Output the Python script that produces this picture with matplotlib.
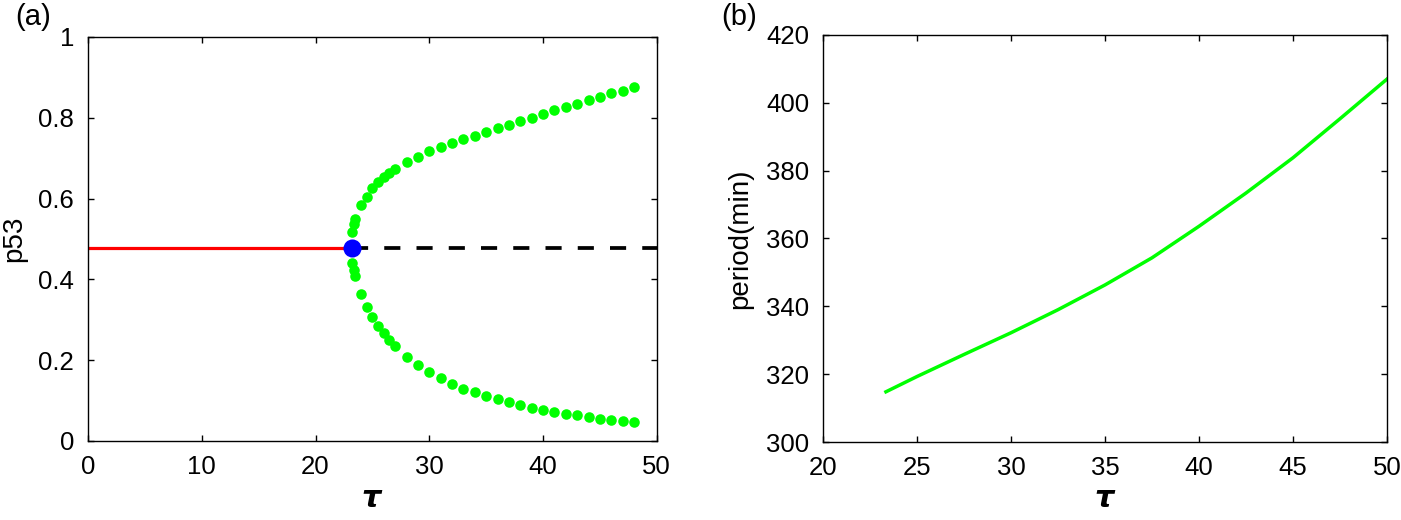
import numpy as np
import matplotlib
matplotlib.use("Agg")
import matplotlib.pyplot as plt

plt.rcParams['font.family'] = ['Liberation Sans', 'DejaVu Sans']

# panel (a): bifurcation diagram
tau_hopf = 23.2
p53_steady = 0.477
tau_max = 50

tau_orbit = [23.22, 23.37, 23.49, 24.0, 24.5, 25.0, 25.5, 26.0, 26.5, 27.0,
             28, 29, 30, 31, 32, 33, 34, 35, 36, 37, 38, 39, 40, 41, 42,
             43, 44, 45, 46, 47, 48]
p53_max = [0.518, 0.537, 0.549, 0.583, 0.605, 0.625, 0.640, 0.653, 0.664, 0.674,
           0.690, 0.704, 0.717, 0.728, 0.738, 0.748, 0.756, 0.765, 0.774, 0.781,
           0.791, 0.800, 0.809, 0.818, 0.826, 0.835, 0.843, 0.851, 0.860, 0.867,
           0.877]
p53_min = [0.440, 0.422, 0.408, 0.364, 0.332, 0.306, 0.285, 0.266, 0.250, 0.235,
           0.209, 0.188, 0.170, 0.155, 0.142, 0.129, 0.120, 0.111, 0.103, 0.096,
           0.089, 0.082, 0.076, 0.072, 0.067, 0.064, 0.059, 0.055, 0.053, 0.050,
           0.046]

# panel (b): oscillation period
tau_period = [23.35, 25, 27.5, 30, 32.5, 35, 37.5, 40, 42.5, 45, 47.5, 50]
period = [314.8, 319.3, 325.8, 332.2, 339.0, 346.3, 354.3, 363.6, 373.4,
          383.8, 395.3, 407.0]

a_xticks = [0, 10, 20, 30, 40, 50]
a_yticks = [0, 0.2, 0.4, 0.6, 0.8, 1]
a_ylabels = ['0', '0.2', '0.4', '0.6', '0.8', '1']
b_xticks = [20, 25, 30, 35, 40, 45, 50]
b_yticks = [300, 320, 340, 360, 380, 400, 420]

fig = plt.figure(figsize=(14.01, 5.2), dpi=100)
ax1 = fig.add_axes([0.0628, 0.152, 0.406, 0.777])
ax2 = fig.add_axes([0.5874, 0.150, 0.4026, 0.7827])

green = '#00ff00'
ax1.plot([0, tau_hopf], [p53_steady, p53_steady], color='#ff0000', lw=2.3, zorder=2)
ax1.plot([tau_hopf, tau_max], [p53_steady, p53_steady], color='black', lw=2.7,
         dashes=(4.3, 4.3), zorder=2)
ax1.plot(tau_orbit, p53_max, 'o', color=green, ms=7.6, mec='none', zorder=3)
ax1.plot(tau_orbit, p53_min, 'o', color=green, ms=7.6, mec='none', zorder=3)
ax1.plot([tau_hopf], [p53_steady], 'o', color='#0000ff', ms=13, mec='none', zorder=4)
ax1.set_xlim(0, 50)
ax1.set_ylim(0, 1)
ax1.set_xticks(a_xticks)
ax1.set_yticks(a_yticks)
ax1.set_yticklabels(a_ylabels)
ax1.set_ylabel('p53', fontsize=20)
ax1.yaxis.set_label_coords(-0.107, 0.5)
ax1.xaxis.set_label_coords(0.5, -0.106)

ax2.plot(tau_period, period, color=green, lw=2.5, solid_joinstyle='round')
ax2.set_xlim(20, 50)
ax2.set_ylim(300, 420)
ax2.set_xticks(b_xticks)
ax2.set_yticks(b_yticks)
ax2.set_ylabel('period(min)', fontsize=20)
ax2.yaxis.set_label_coords(-0.124, 0.5)
ax2.xaxis.set_label_coords(0.5, -0.103)

for ax in (ax1, ax2):
    ax.tick_params(direction='in', top=True, right=True, labelsize=18.5,
                   length=4.5, width=1, pad=10)
    for s in ax.spines.values():
        s.set_linewidth(1.0)
    ax.set_xlabel(r'$\boldsymbol{\tau}$', fontsize=22)

fig.text(0.0107, 0.967, '(a)', fontsize=21, ha='left', va='center')
fig.text(0.515, 0.967, '(b)', fontsize=21, ha='left', va='center')

fig.savefig('out.png', dpi=100)
